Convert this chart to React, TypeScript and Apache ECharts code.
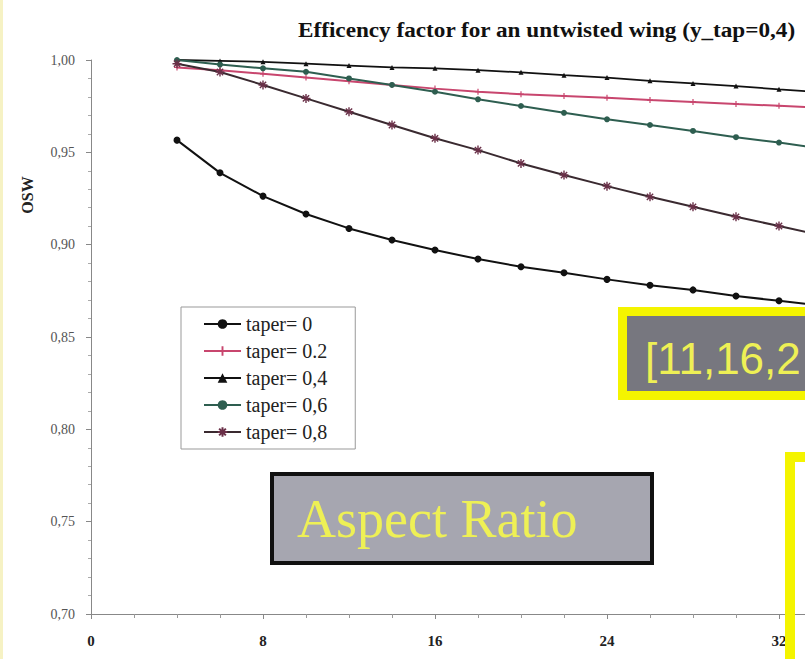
import React, { useEffect, useRef } from "react";
import * as echarts from "echarts";

const aspectRatios = [4, 6, 8, 10, 12, 14, 16, 18, 20, 22, 24, 26, 28, 30, 32, 34];
const taper00 = [0.9566, 0.9389, 0.9263, 0.9166, 0.9088, 0.9025, 0.8971, 0.8922, 0.888, 0.8848, 0.8812, 0.878, 0.8755, 0.8722, 0.8696, 0.867];
const taper02 = [0.996, 0.9945, 0.9925, 0.9905, 0.9885, 0.9865, 0.9845, 0.9828, 0.9815, 0.9805, 0.9795, 0.9783, 0.9773, 0.9762, 0.9752, 0.9742];
const taper04 = [1.0, 0.9995, 0.999, 0.998, 0.997, 0.996, 0.9955, 0.9945, 0.9933, 0.9918, 0.9905, 0.9887, 0.9873, 0.9859, 0.9841, 0.9825];
const taper06 = [1.0, 0.9975, 0.9955, 0.9936, 0.99, 0.9865, 0.9828, 0.9787, 0.9751, 0.9714, 0.9679, 0.9648, 0.9616, 0.9582, 0.9553, 0.952];
const taper08 = [0.998, 0.9935, 0.9865, 0.9792, 0.972, 0.9648, 0.9576, 0.9512, 0.944, 0.9377, 0.9317, 0.9259, 0.9205, 0.9151, 0.9101, 0.905];
const seriesNames = ["taper= 0", "taper= 0.2", "taper= 0,4", "taper= 0,6", "taper= 0,8"];

const SERIF = "'Liberation Serif', 'Times New Roman', serif";
const SANS = "'Liberation Sans', Arial, sans-serif";

const plusPath = "path://M4,0 L6,0 L6,4 L10,4 L10,6 L6,6 L6,10 L4,10 L4,6 L0,6 L0,4 L4,4 Z";
const starPath = "path://M5,0 L5,10 M0,5 L10,5 M1.5,1.5 L8.5,8.5 M8.5,1.5 L1.5,8.5";

function pairs(ys: number[]) {
  return aspectRatios.map((x, i) => [x, ys[i]]);
}

export default function App() {
  const ref = useRef<HTMLDivElement>(null);
  useEffect(() => {
    if (!ref.current) return;
    const chart = echarts.init(ref.current, null, { renderer: "svg" });
    chart.setOption({
      animation: false,
      backgroundColor: "#ffffff",
      grid: { left: 91, top: 60, width: 731, height: 554, containLabel: false, outerBoundsMode: "none" },
      legend: {
        orient: "vertical",
        left: 181,
        top: 307,
        padding: [7, 28, 7, 22],
        itemWidth: 37,
        itemHeight: 12,
        itemGap: 7,
        backgroundColor: "#ffffff",
        borderColor: "#999",
        borderWidth: 1,
        textStyle: { fontFamily: SERIF, fontSize: 20, color: "#222", lineHeight: 20 },
        data: seriesNames,
      },
      xAxis: {
        type: "value",
        min: 0,
        max: 34,
        interval: 8,
        axisLine: { show: true, lineStyle: { color: "#888", width: 1 } },
        axisTick: { show: true, inside: false, length: 5, lineStyle: { color: "#888" } },
        minorTick: { show: true, splitNumber: 4, length: 4, lineStyle: { color: "#999" } },
        splitLine: { show: false },
        axisLabel: { fontFamily: SERIF, fontSize: 15, fontWeight: "bold", color: "#222", margin: 19, showMaxLabel: false },
      },
      yAxis: {
        type: "value",
        min: 0.7,
        max: 1.0,
        interval: 0.05,
        axisLine: { show: true, lineStyle: { color: "#888", width: 1 } },
        axisTick: { show: true, inside: false, length: 5, lineStyle: { color: "#888" } },
        minorTick: { show: true, splitNumber: 5, length: 3, lineStyle: { color: "#aaa" } },
        splitLine: { show: false },
        axisLabel: {
          fontFamily: SERIF,
          fontSize: 14,
          color: "#555",
          margin: 16,
          formatter: (v: number) => v.toFixed(2).replace(".", ","),
        },
      },
      series: [
        {
          name: seriesNames[0],
          type: "line",
          data: pairs(taper00),
          symbol: "circle",
          symbolSize: 7,
          itemStyle: { color: "#111" },
          lineStyle: { color: "#111", width: 2 },
        },
        {
          name: seriesNames[1],
          type: "line",
          data: pairs(taper02),
          symbol: plusPath,
          symbolSize: 6,
          itemStyle: { color: "#c8466e" },
          lineStyle: { color: "#c8466e", width: 2 },
        },
        {
          name: seriesNames[2],
          type: "line",
          data: pairs(taper04),
          symbol: "triangle",
          symbolSize: 5,
          itemStyle: { color: "#111" },
          lineStyle: { color: "#111", width: 1.8 },
        },
        {
          name: seriesNames[3],
          type: "line",
          data: pairs(taper06),
          symbol: "circle",
          symbolSize: 6,
          itemStyle: { color: "#2e5e50" },
          lineStyle: { color: "#2e5e50", width: 2 },
        },
        {
          name: seriesNames[4],
          type: "line",
          data: pairs(taper08),
          symbol: starPath,
          symbolSize: 9,
          itemStyle: { color: "#6a3048", borderColor: "#6a3048", borderWidth: 1.4 },
          lineStyle: { color: "#3a2a30", width: 2 },
        },
      ],
      graphic: [
        { type: "rect", left: 0, top: 0, shape: { width: 3, height: 659 }, style: { fill: "#f6f2c4" }, z: 1 },
        {
          type: "text",
          x: 298,
          y: 31,
          scaleX: 1.16,
          style: {
            text: "Efficency factor for an untwisted wing (y_tap=0,4)",
            font: `bold 20px ${SERIF}`,
            fill: "#111",
            textVerticalAlign: "middle",
          },
        },
        {
          type: "text",
          x: 27,
          y: 195,
          rotation: Math.PI / 2,
          style: {
            text: "OSW",
            font: `bold 16px ${SERIF}`,
            fill: "#222",
            textAlign: "center",
            textVerticalAlign: "middle",
          },
        },
        {
          type: "rect",
          shape: { x: 272, y: 474, width: 380, height: 89 },
          style: { fill: "#a6a6b0", stroke: "#111", lineWidth: 4 },
          z: 10,
        },
        {
          type: "text",
          x: 297,
          y: 519,
          style: { text: "Aspect Ratio", font: `54px ${SERIF}`, fill: "#eef055", textVerticalAlign: "middle" },
          z: 11,
        },
        { type: "rect", shape: { x: 618, y: 307, width: 187, height: 93 }, style: { fill: "#f4f400" }, z: 10 },
        { type: "rect", shape: { x: 627, y: 316, width: 178, height: 75 }, style: { fill: "#77777f" }, z: 10 },
        {
          type: "text",
          x: 645,
          y: 358,
          style: { text: "[11,16,2", font: `44px ${SANS}`, fill: "#eef055", textVerticalAlign: "middle" },
          z: 11,
        },
        { type: "rect", shape: { x: 785, y: 452, width: 20, height: 10 }, style: { fill: "#f4f400" }, z: 10 },
        { type: "rect", shape: { x: 785, y: 452, width: 10, height: 207 }, style: { fill: "#f4f400" }, z: 10 },
      ],
    });
    return () => chart.dispose();
  }, []);
  return <div ref={ref} style={{ position: "absolute", left: 0, top: 0, width: 805, height: 659 }} />;
}
